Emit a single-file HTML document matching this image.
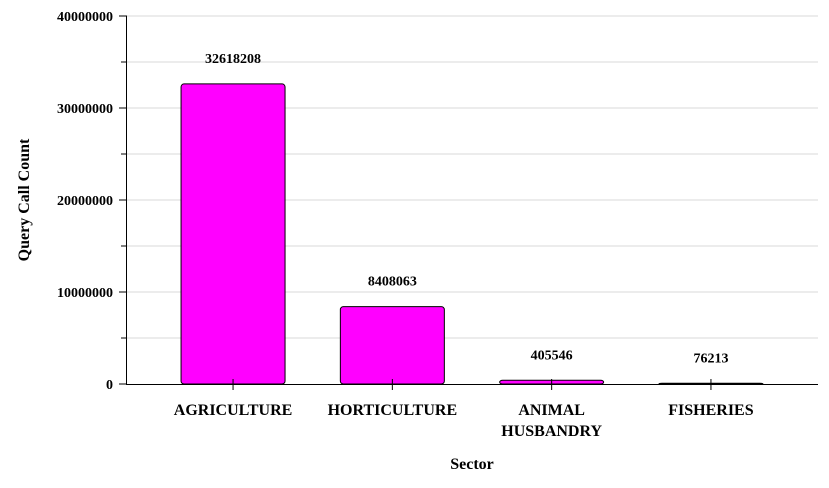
<!DOCTYPE html>
<html><head><meta charset="utf-8"><style>
body{margin:0;background:#fff;}
svg text{font-family:"Liberation Serif",serif;font-weight:bold;fill:#000;}
</style></head><body>
<svg width="829" height="483" id="c">
</svg>
<script>
const categories=[["AGRICULTURE"],["HORTICULTURE"],["ANIMAL","HUSBANDRY"],["FISHERIES"]];
const values=[32618208,8408063,405546,76213];
const tickValues=[0,10000000,20000000,30000000,40000000];
const gridValues=[5000000,10000000,15000000,20000000,25000000,30000000,35000000,40000000];
const NS="http://www.w3.org/2000/svg";
const svg=document.getElementById('c');
const y0=384,y1=16,ymax=40000000;
const y=v=>y0-(y0-y1)*v/ymax;
const bandStart=153.4,bandW=159.3,barW=104;
const xc=i=>bandStart+bandW*(i+0.5);
function mk(t,a,txt){const e=document.createElementNS(NS,t);for(const k in a)e.setAttribute(k,a[k]);if(txt!==undefined)e.textContent=txt;svg.appendChild(e);return e;}
gridValues.forEach(v=>{
 const g=mk('line',{x1:127,x2:818,y1:y(v),y2:y(v),stroke:'#d8d8d8','stroke-width':1});
 
 
 const t=mk('line',{x1:121,x2:127,y1:y(v),y2:y(v),stroke:'#000'});
 
 
});
tickValues.forEach(v=>{
 const t=mk('text',{x:113,y:y(v)+5,'text-anchor':'end','font-size':14},String(v));
 
 
 const l=mk('line',{x1:119,x2:127,y1:y(v),y2:y(v),stroke:'#000'});
 
 
});
values.forEach((v,i)=>{
 const b=mk('rect',{x:xc(i)-barW/2,y:y(v),width:barW,height:Math.max(y0-y(v),1),fill:'#ff00ff',stroke:'#000','stroke-width':1,rx:3});
 
 
 const t=mk('text',{x:xc(i),y:y(v)-21,'text-anchor':'middle','font-size':14},String(v));
 
 
 const tk=mk('line',{x1:xc(i),x2:xc(i),y1:y0-5,y2:y0+6,stroke:'#000'});
 
 
 categories[i].forEach((s,j)=>{
  const c=mk('text',{x:xc(i),y:415+j*21,'text-anchor':'middle','font-size':16},s);
  
  
 });
});
const ax=mk('line',{x1:126.5,x2:126.5,y1:y1,y2:y0,stroke:'#000'});


const bx=mk('line',{x1:126,x2:818,y1:y0+0.5,y2:y0+0.5,stroke:'#000'});


const xt=mk('text',{x:472,y:469,'text-anchor':'middle','font-size':16},'Sector');


const yt=mk('text',{x:0,y:0,'text-anchor':'middle','font-size':16,transform:'translate(29,200) rotate(-90)'},'Query Call Count');


</script>
</body></html>
